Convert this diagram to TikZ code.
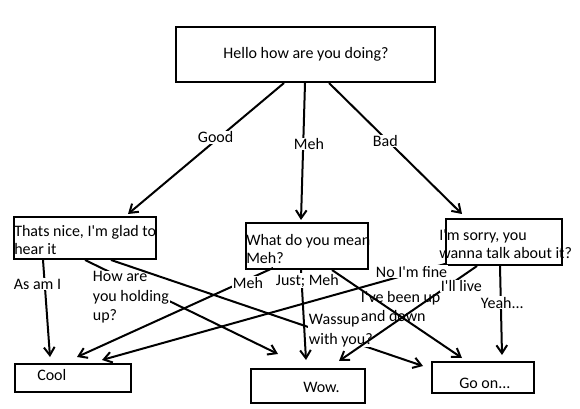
\documentclass[tikz,border=0pt]{standalone}
\usepackage{fontspec}
\setmainfont{Carlito}
\usetikzlibrary{arrows.meta,calc}
\newcommand\myap{\textquotesingle}
\begin{document}
\begin{tikzpicture}[x=0.75pt,y=-0.75pt,
  box/.style={draw,line width=1.5pt,inner sep=0pt,anchor=north west},
  txt/.style={inner sep=0pt,font=\fontsize{12}{13.5}\selectfont,align=left},
  lbl/.style={inner sep=0.5pt,fill=white,font=\fontsize{12}{14.5}\selectfont,align=left,anchor=base west},
  conn/.style={line width=1.5pt,-{Straight Barb[length=6pt,width=8pt]}}]
\useasboundingbox (0,0) rectangle (580,409);

% boxes
\node[box,minimum width=259*0.75pt,minimum height=55*0.75pt] (top) at (175,26) {};
\node[box,minimum width=142*0.75pt,minimum height=42*0.75pt] (tl) at (13,216) {};
\node[box,minimum width=122*0.75pt,minimum height=46*0.75pt] (tm) at (245,222) {};
\node[box,minimum width=116*0.75pt,minimum height=46*0.75pt] (tr) at (445,218) {};
\node[box,minimum width=116*0.75pt,minimum height=28*0.75pt] (cool) at (14,363) {};
\node[box,minimum width=114*0.75pt,minimum height=34*0.75pt] (wow) at (250,368) {};
\node[box,minimum width=102*0.75pt,minimum height=31*0.75pt] (goon) at (431,361) {};

% box texts (base = last line)
\node[txt] (toptxt) at (306,54) {Hello how are you doing?};
\node[txt,anchor=base west] (tltxt) at (14,254) {Thats nice, I\myap m glad to\\hear it};
\node[txt,anchor=base west] (tmtxt) at (246,263) {What do you mean\\Meh?};
\node[txt,anchor=base west] (trtxt) at (439,258) {I\myap m sorry, you\\wanna talk about it?};
\node[txt,anchor=base west] (cooltxt) at (37,380) {Cool};
\node[txt,anchor=base west] (wowtxt) at (303,392.5) {Wow.};
\node[txt,anchor=base west] (goontxt) at (459,388) {Go on...};

% connectors from top
\draw[conn] ($(top.south west)+(109,0)$) -- ($(tl.north west)+(115,-2)$);
\node[lbl] (l1) at (197,143) {Good};
\draw[conn] ($(top.south west)+(130,0)$) -- ($(tm.north west)+(56,-2)$);
\node[lbl] (l2) at (293,149.5) {Meh};
\draw[conn] ($(top.south west)+(154,0)$) -- ($(tr.north west)+(17,-4)$);
\node[lbl] (l3) at (372,146.5) {Bad};

% from left box
\draw[conn] ($(tl.south west)+(30,0)$) -- ($(cool.north west)+(36,-6)$);
\node[lbl] (l4) at (13,289) {As am I};
\draw[conn] ($(tl.south west)+(72,0)$) -- ($(wow.north west)+(28,-14)$);
\node[lbl] (l5) at (92,320.5) {How are\\you holding\\up?};
\draw[conn] ($(tl.south west)+(98,0)$) -- ($(goon.north west)+(-8,5)$);
\node[lbl] (l6) at (308,344) {Wassup\\with you?};

% from middle box
\draw[conn] ($(tm.south west)+(28,-2)$) -- ($(cool.north west)+(63,-6)$);
\node[lbl] (l7) at (232,288) {Meh};
\draw[conn] ($(tm.south west)+(56,0)$) -- ($(wow.north west)+(56,-8)$);
\node[lbl] (l8) at (275,285) {Just; Meh};
\draw[conn] ($(tm.south west)+(87,0)$) -- ($(goon.north west)+(31,-3)$);
\node[lbl,fill=none] (l9) at (360,321.7) {I\myap ve been up\\and down};

% from right box
\draw[conn] ($(tr.south west)+(0,-2)$) -- ($(cool.north west)+(88,-3)$);
\node[lbl] (l10) at (375,277) {No I\myap m fine};
\draw[conn] ($(tr.south west)+(32,0)$) -- ($(wow.north west)+(89,-7)$);
\node[lbl] (l11) at (440,291.5) {I\myap ll live};
\draw[conn] ($(tr.south west)+(55,0)$) -- ($(goon.north west)+(71,-6)$);
\node[lbl] (l12) at (480,308) {Yeah...};
\end{tikzpicture}
\end{document}
